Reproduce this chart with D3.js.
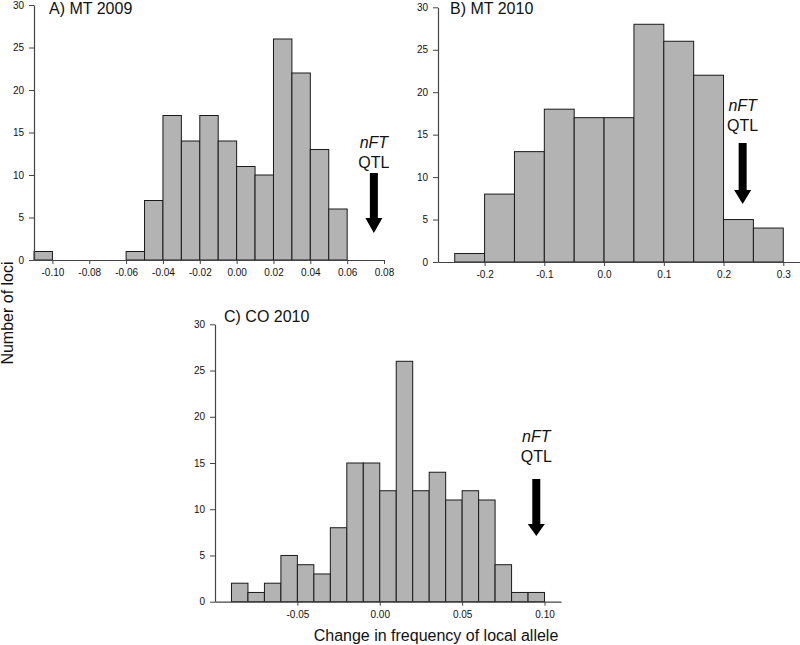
<!DOCTYPE html>
<html>
<head>
<meta charset="utf-8">
<script src="https://cdn.jsdelivr.net/npm/d3@7"></script>
<style>
  body { margin: 0; background: #fff; }
  svg { display: block; font-family: Arial, "Liberation Sans", sans-serif; }
</style>
</head>
<body>
<svg id="chart" width="800" height="645"></svg>
<script>
// ---------- Data ----------
// Panel A: MT 2009 (bin width 0.01)
const binsA_start = [-0.11, -0.06, -0.05, -0.04, -0.03, -0.02, -0.01, 0.00, 0.01, 0.02, 0.03, 0.04, 0.05];
const countsA     = [1, 1, 7, 17, 14, 17, 14, 11, 10, 26, 22, 13, 6];
const ticksA      = [-0.10, -0.08, -0.06, -0.04, -0.02, 0.00, 0.02, 0.04, 0.06, 0.08];

// Panel B: MT 2010 (bin width 0.05)
const binsB_start = [-0.25, -0.20, -0.15, -0.10, -0.05, 0.00, 0.05, 0.10, 0.15, 0.20, 0.25];
const countsB     = [1, 8, 13, 18, 17, 17, 28, 26, 22, 5, 4];
const ticksB      = [-0.2, -0.1, 0.0, 0.1, 0.2, 0.3];

// Panel C: CO 2010 (bin width 0.01)
const binsC_start = [-0.09, -0.08, -0.07, -0.06, -0.05, -0.04, -0.03, -0.02, -0.01, 0.00,
                     0.01, 0.02, 0.03, 0.04, 0.05, 0.06, 0.07, 0.08, 0.09];
const countsC     = [2, 1, 2, 5, 4, 3, 8, 15, 15, 12, 26, 12, 14, 11, 12, 11, 4, 1, 1];
const ticksC      = [-0.05, 0.00, 0.05, 0.10];

const yTicks = [0, 5, 10, 15, 20, 25, 30];
const titles = ["A) MT 2009", "B) MT 2010", "C) CO 2010"];
const arrowX = [0.0745, 0.232, 0.095];   // nFT QTL position (data units)

// ---------- Layout ----------
const svg = d3.select("#chart");
const hy = s => s.replace(/\u2212/g, "-");

const panels = [
  { bins: binsA_start, counts: countsA, width: 0.01, ticks: ticksA, fmt: ".2f",
    xd: [-0.11, 0.08], xr: [34, 384], yr: [260, 5],
    title: titles[0], tx: 49, ty: 14,
    ax: arrowX[0], aTop: 173, aHead: 218, aTip: 233, l1: 148, l2: 168 },
  { bins: binsB_start, counts: countsB, width: 0.05, ticks: ticksB, fmt: ".1f",
    xd: [-0.278, 0.328], xr: [438, 800], yr: [262, 7.3],
    title: titles[1], tx: 450, ty: 14,
    ax: arrowX[1], aTop: 143, aHead: 190, aTip: 204, l1: 111, l2: 131 },
  { bins: binsC_start, counts: countsC, width: 0.01, ticks: ticksC, fmt: ".2f",
    xd: [-0.10, 0.11], xr: [215, 561], yr: [601.7, 324.3],
    title: titles[2], tx: 224, ty: 322,
    ax: arrowX[2], aTop: 479, aHead: 524, aTip: 536, l1: 442, l2: 462 }
];

panels.forEach(p => {
  const x = d3.scaleLinear().domain(p.xd).range(p.xr);
  const y = d3.scaleLinear().domain([0, 30]).range(p.yr);
  const g = svg.append("g");

  // bars
  g.selectAll("rect.bar")
    .data(p.bins.map((b, i) => ({ x0: b, x1: b + p.width, n: p.counts[i] })))
    .join("rect")
    .attr("class", "bar")
    .attr("x", d => x(d.x0))
    .attr("width", d => x(d.x1) - x(d.x0))
    .attr("y", d => y(d.n))
    .attr("height", d => y(0) - y(d.n))
    .attr("fill", "#b3b3b3")
    .attr("stroke", "#1a1a1a")
    .attr("stroke-width", 1);

  // x axis
  const xa = g.append("g")
    .attr("transform", `translate(0,${y(0)})`)
    .call(d3.axisBottom(x).tickValues(p.ticks).tickSize(4).tickPadding(5)
      .tickSizeOuter(0).tickFormat(d => hy(d3.format(p.fmt)(d))));
  // y axis
  const ya = g.append("g")
    .attr("transform", `translate(${p.xr[0]},0)`)
    .call(d3.axisLeft(y).tickValues(yTicks).tickSize(5).tickPadding(5).tickSizeOuter(0));

  [xa, ya].forEach(a => {
    a.select(".domain").attr("stroke", "#444").attr("stroke-width", 1.2);
    a.selectAll(".tick line").attr("stroke", "#444");
    a.selectAll("text").attr("font-size", 10).attr("fill", "#111")
      .attr("font-family", "Arial, 'Liberation Sans', sans-serif");
  });

  // title
  g.append("text").attr("x", p.tx).attr("y", p.ty)
    .attr("font-size", 16).attr("fill", "#111").text(p.title);

  // arrow
  const cx = x(p.ax);
  const sw = 4, hw = 8.5;
  g.append("path")
    .attr("d", `M${cx - sw},${p.aTop} L${cx + sw},${p.aTop} L${cx + sw},${p.aHead}
                L${cx + hw},${p.aHead} L${cx},${p.aTip} L${cx - hw},${p.aHead}
                L${cx - sw},${p.aHead} Z`)
    .attr("fill", "#000");

  g.append("text").attr("x", cx).attr("y", p.l1).attr("text-anchor", "middle")
    .attr("font-size", 16).attr("font-style", "italic").attr("fill", "#111").text("nFT");
  g.append("text").attr("x", cx).attr("y", p.l2).attr("text-anchor", "middle")
    .attr("font-size", 16).attr("fill", "#111").text("QTL");
});

// axis titles
svg.append("text")
  .attr("transform", "translate(13,313) rotate(-90)")
  .attr("text-anchor", "middle").attr("font-size", 16).attr("fill", "#111")
  .text("Number of loci");

svg.append("text")
  .attr("x", 436).attr("y", 641).attr("text-anchor", "middle")
  .attr("font-size", 16).attr("fill", "#111")
  .text("Change in frequency of local allele");
</script>
</body>
</html>
